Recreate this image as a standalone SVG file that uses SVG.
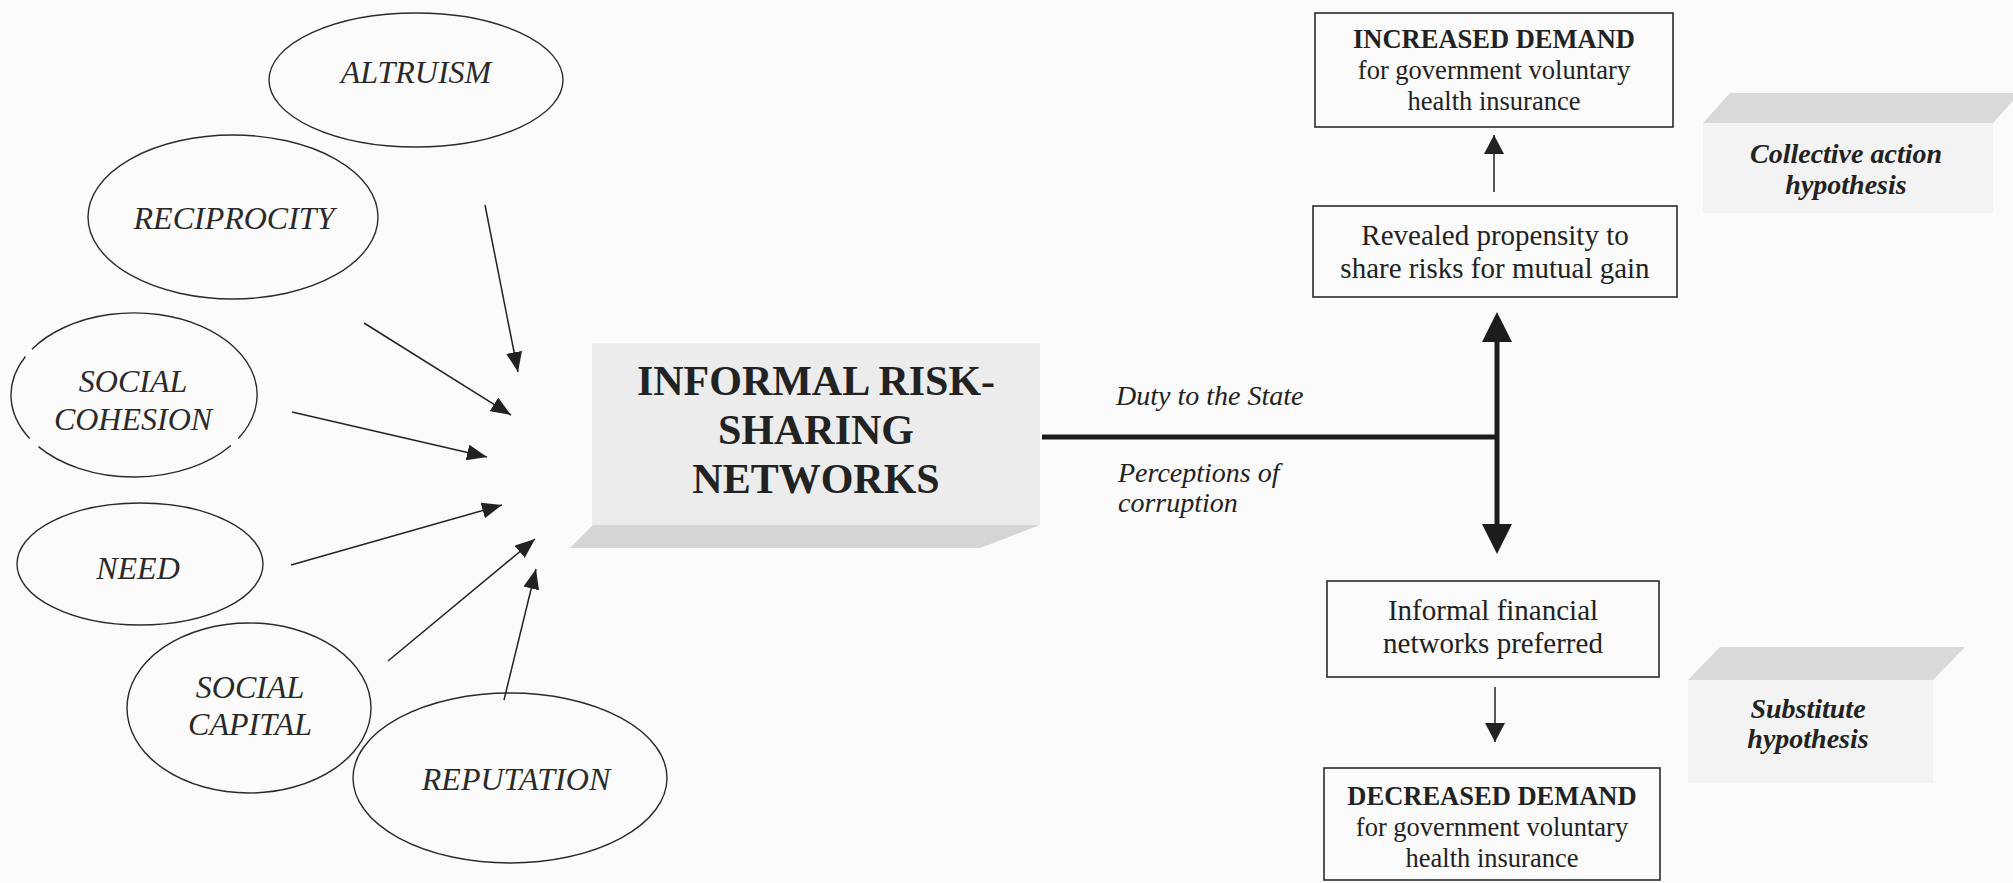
<svg xmlns="http://www.w3.org/2000/svg" width="2013" height="883" viewBox="0 0 2013 883">
  <defs>
    <style>
      .bg { fill: #fbfbfb; }
      .oval { fill: none; stroke: #2b2b2b; stroke-width: 1.4; }
      .serif { font-family: "Liberation Serif", "Times New Roman", serif; fill: #222; }
      .oval-t { font-style: italic; font-size: 32px; text-anchor: middle; fill: #2a2a2a; }
      .box { fill: none; stroke: #2b2b2b; stroke-width: 1.6; }
      .bt { font-size: 29px; text-anchor: middle; }
      .bt-s { font-size: 26.5px; text-anchor: middle; }
      .bold { font-weight: bold; }
      .thin { stroke: #222; stroke-width: 1.5; fill: none; }
      .thick { stroke: #1c1c1c; stroke-width: 5; fill: none; }
      .face { fill: #ececec; }
      .shade { fill: #d5d5d5; }
      .hface { fill: #f3f3f3; }
      .hshade { fill: #d9d9d9; }
      .hyp { font-style: italic; font-weight: bold; font-size: 28px; text-anchor: middle; }
      .lbl { font-style: italic; font-size: 28px; }
      .core { font-weight: bold; font-size: 42px; text-anchor: middle; }
    </style>
    <!-- thin arrowhead, tip sits on the line end -->
    <marker id="ah" viewBox="0 0 20 16" refX="20" refY="8" markerWidth="20" markerHeight="16" markerUnits="userSpaceOnUse" orient="auto">
      <path d="M0,0 L20,8 L0,16 z" fill="#222"/>
    </marker>
    <!-- small vertical arrowhead between the boxes -->
    <marker id="ahs" viewBox="0 0 19 20" refX="19" refY="10" markerWidth="19" markerHeight="20" markerUnits="userSpaceOnUse" orient="auto">
      <path d="M0,0 L19,10 L0,20 z" fill="#222"/>
    </marker>
    <!-- heavy arrowhead, base sits on the line end -->
    <marker id="ahb" viewBox="0 0 30 30" refX="0" refY="15" markerWidth="30" markerHeight="30" markerUnits="userSpaceOnUse" orient="auto-start-reverse">
      <path d="M0,0 L30,15 L0,30 z" fill="#1c1c1c"/>
    </marker>
  </defs>

  <rect class="bg" x="0" y="0" width="2013" height="883"/>

  <!-- determinants -->
  <g id="altruism">
    <ellipse class="oval" cx="416" cy="80" rx="147" ry="67"/>
    <text class="serif oval-t" x="416" y="83">ALTRUISM</text>
  </g>
  <g id="reciprocity">
    <ellipse class="oval" cx="233" cy="217" rx="145" ry="82"/>
    <text class="serif oval-t" x="234" y="229">RECIPROCITY</text>
  </g>
  <g id="social-cohesion">
    <path class="oval" d="M230.9,445.5 A123,82 0 0 1 38.4,446.6 M29.7,438.5 A123,82 0 0 1 25.4,356.5 M32.0,349.2 A123,82 0 0 1 238.3,438.5"/>
    <text class="serif oval-t" x="133" y="392">SOCIAL</text>
    <text class="serif oval-t" x="133" y="430">COHESION</text>
  </g>
  <g id="need">
    <ellipse class="oval" cx="140" cy="564" rx="123" ry="61"/>
    <text class="serif oval-t" x="138" y="579">NEED</text>
  </g>
  <g id="social-capital">
    <ellipse class="oval" cx="249" cy="708" rx="122" ry="85"/>
    <text class="serif oval-t" x="250" y="698">SOCIAL</text>
    <text class="serif oval-t" x="250" y="735">CAPITAL</text>
  </g>
  <g id="reputation">
    <ellipse class="oval" cx="510" cy="778" rx="157" ry="85"/>
    <text class="serif oval-t" x="516" y="790">REPUTATION</text>
  </g>

  <!-- central block -->
  <g id="informal-networks">
    <rect class="face" x="592" y="343" width="448" height="182"/>
    <polygon class="shade" points="593,525 1040,525 980,548 570,548"/>
    <text class="serif core" x="816" y="395">INFORMAL RISK-</text>
    <text class="serif core" x="816" y="444">SHARING</text>
    <text class="serif core" x="816" y="493">NETWORKS</text>
  </g>

  <!-- outcomes -->
  <g id="increased-demand">
    <rect class="box" x="1315" y="13" width="358" height="114"/>
    <text class="serif bt-s bold" x="1494" y="48">INCREASED DEMAND</text>
    <text class="serif bt-s" x="1494" y="79">for government voluntary</text>
    <text class="serif bt-s" x="1494" y="110">health insurance</text>
  </g>
  <g id="revealed-propensity">
    <rect class="box" x="1313" y="206" width="364" height="91"/>
    <text class="serif bt" x="1495" y="245">Revealed propensity to</text>
    <text class="serif bt" x="1495" y="278">share risks for mutual gain</text>
  </g>
  <g id="informal-preferred">
    <rect class="box" x="1327" y="581" width="332" height="96"/>
    <text class="serif bt" x="1493" y="620">Informal financial</text>
    <text class="serif bt" x="1493" y="653">networks preferred</text>
  </g>
  <g id="decreased-demand">
    <rect class="box" x="1324" y="768" width="336" height="112"/>
    <text class="serif bt-s bold" x="1492" y="805">DECREASED DEMAND</text>
    <text class="serif bt-s" x="1492" y="836">for government voluntary</text>
    <text class="serif bt-s" x="1492" y="867">health insurance</text>
  </g>

  <!-- hypotheses -->
  <g id="collective-action">
    <rect class="hface" x="1703" y="123" width="290" height="90"/>
    <polygon class="hshade" points="1730,93 2020,93 1993,123 1703,123"/>
    <text class="serif hyp" x="1846" y="163">Collective action</text>
    <text class="serif hyp" x="1846" y="194">hypothesis</text>
  </g>
  <g id="substitute">
    <rect class="hface" x="1688" y="680" width="245" height="103"/>
    <polygon class="hshade" points="1720,647 1965,647 1933,680 1688,680"/>
    <text class="serif hyp" x="1808" y="718">Substitute</text>
    <text class="serif hyp" x="1808" y="748">hypothesis</text>
  </g>

  <!-- connectors -->
  <g id="connectors">
    <line class="thin" x1="485" y1="205" x2="518" y2="372" marker-end="url(#ah)"/>
    <line class="thin" x1="364" y1="323" x2="511" y2="415" marker-end="url(#ah)"/>
    <line class="thin" x1="292" y1="412" x2="487" y2="457" marker-end="url(#ah)"/>
    <line class="thin" x1="291" y1="565" x2="502" y2="505" marker-end="url(#ah)"/>
    <line class="thin" x1="388" y1="661" x2="535" y2="539" marker-end="url(#ah)"/>
    <line class="thin" x1="504" y1="700" x2="536" y2="569" marker-end="url(#ah)"/>

    <line class="thick" x1="1042" y1="437" x2="1499" y2="437"/>
    <line class="thick" x1="1497" y1="342" x2="1497" y2="524" marker-start="url(#ahb)" marker-end="url(#ahb)"/>

    <line class="thin" x1="1494" y1="192" x2="1494" y2="135" marker-end="url(#ahs)"/>
    <line class="thin" x1="1495" y1="687" x2="1495" y2="742" marker-end="url(#ahs)"/>

    <text class="serif lbl" x="1116" y="405">Duty to the State</text>
    <text class="serif lbl" x="1118" y="482">Perceptions of</text>
    <text class="serif lbl" x="1118" y="512">corruption</text>
  </g>
</svg>
